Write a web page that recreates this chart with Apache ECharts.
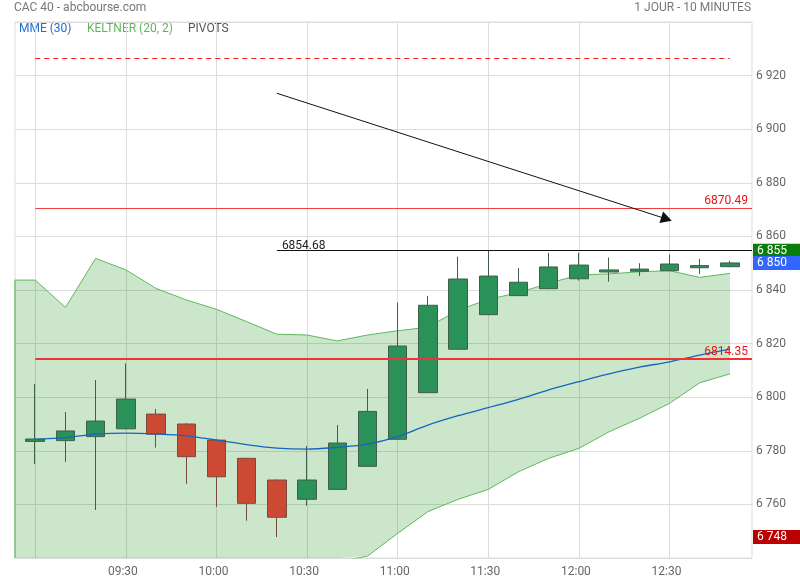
<!DOCTYPE html>
<html><head><meta charset="utf-8">
<script src="https://cdn.jsdelivr.net/npm/echarts@6/dist/echarts.min.js"></script>
<style>html,body{margin:0;padding:0;background:#fff}#c{width:800px;height:580px}</style>
</head><body><div id="c"></div>
<script>
// ---- data ----
const categories = ['09:00','09:10','09:20','09:30','09:40','09:50','10:00','10:10','10:20','10:30','10:40','10:50',
  '11:00','11:10','11:20','11:30','11:40','11:50','12:00','12:10','12:20','12:30','12:40','12:50'];
const opens  = [6783.5,6783.8,6785.3,6788.2,6793.7,6790.0,6784.0,6777.2,6769.1,6761.9,6765.6,6774.2,
  6784.3,6801.7,6817.9,6830.8,6837.9,6840.5,6844.2,6846.7,6847.0,6847.2,6848.3,6848.7];
const closes = [6784.4,6787.4,6791.1,6799.3,6786.2,6777.8,6770.3,6760.4,6755.2,6769.1,6782.9,6794.7,
  6819.1,6834.3,6844.1,6845.2,6842.9,6848.6,6849.3,6847.5,6847.8,6849.7,6849.1,6850.1];
const lows   = [6775.1,6775.9,6757.9,6788.0,6781.2,6767.7,6759.1,6753.9,6747.8,6759.5,6765.4,6774.0,
  6784.0,6801.5,6817.7,6830.6,6837.7,6840.3,6843.5,6843.1,6845.2,6847.0,6846.0,6848.5];
const highs  = [6804.9,6794.5,6806.4,6812.6,6795.6,6790.3,6784.2,6777.4,6769.3,6781.8,6789.6,6803.1,
  6835.3,6837.8,6852.4,6854.68,6848.2,6853.9,6853.9,6852.1,6850.0,6853.2,6851.6,6850.9];
const mme30  = [6784.3,6784.9,6786.2,6786.6,6786.3,6785.6,6784.0,6782.3,6781.0,6780.6,6781.3,6782.5,
  6785.3,6789.6,6793.1,6796.1,6799.2,6802.7,6805.8,6808.7,6811.2,6813.2,6815.7,6817.9];
const keltnerUpper = [6843.7,6833.5,6851.8,6847.5,6840.6,6836.3,6832.8,6828.2,6823.5,6823.2,6821.0,6823.2,
  6824.8,6826.1,6832.5,6836.5,6839.0,6842.5,6845.6,6846.0,6846.8,6847.2,6844.7,6846.2];
const keltnerLower = [6724.9,6736.3,6720.6,6725.7,6732.0,6735.0,6735.2,6736.4,6738.5,6738.0,6738.6,6740.7,
  6749.2,6757.3,6761.9,6765.6,6772.2,6777.2,6780.9,6787.1,6792.1,6797.7,6805.4,6808.7];
const xTickIndex = [3,6,9,12,15,18,21];
const pivotDashed = 6926.5;
const pivotR1 = 6870.49;
const pivotP = 6814.35;
const dayHigh = 6854.68;
const lastPrice = 6850.1;
const dayLow = 6747.8;
const highLineStart = 8;
const arrowFrom = [8, 6913.4];
const arrowTo = [20.9, 6866.5];

// ---- chart ----
const X_MIN = -0.67, X_MAX = 23.73, Y_MIN = 6740, Y_MAX = 6940;
const FONT = 'Roboto';
const fmt = v => String(Math.round(v)).replace(/\B(?=(\d{3})+(?!\d))/g, ' ');
const idx = categories.map((_, i) => i);
const bandX = [X_MIN].concat(idx);
const bandUp = [keltnerUpper[0]].concat(keltnerUpper);
const bandLo = [keltnerLower[0]].concat(keltnerLower);
const LAST = idx.length - 1;

const chart = echarts.init(document.getElementById('c'), null, {renderer: 'canvas'});
const boxLabel = (v, bg) => ({
  yAxis: v, lineStyle: {color: 'transparent', width: 0, opacity: 1},
  label: {show: true, position: 'end', distance: 1, formatter: fmt(v), color: '#fff', opacity: 1,
    backgroundColor: bg, padding: [1, 14, 0, 4], fontSize: 12, lineHeight: 13, fontFamily: FONT}
});
const option = {
  animation: false,
  textStyle: {fontFamily: FONT},
  grid: {left: 15, right: 48, top: 22, bottom: 22, show: true, borderColor: '#ddd', borderWidth: 1},
  xAxis: {
    type: 'value', min: X_MIN, max: X_MAX,
    axisLine: {show: false},
    axisTick: {show: false, customValues: xTickIndex},
    axisLabel: {customValues: xTickIndex, formatter: v => categories[v], color: '#666', fontSize: 12, margin: 8, padding: [0, 6, 0, 0]},
    splitLine: {show: true, lineStyle: {color: '#ddd', width: 1}}
  },
  yAxis: {
    type: 'value', position: 'right', min: Y_MIN, max: Y_MAX, interval: 20,
    axisLine: {show: true, lineStyle: {color: '#ddd'}},
    axisTick: {show: false},
    axisLabel: {color: '#666', fontSize: 12, margin: 4, showMinLabel: false, showMaxLabel: false, formatter: fmt},
    splitLine: {show: true, lineStyle: {color: '#ddd', width: 1}}
  },
  graphic: [
    {type: 'text', left: 14, top: 2, style: {text: 'CAC 40 - abcbourse.com', fill: '#777', font: '12px Roboto'}},
    {type: 'text', right: 49, top: 2, style: {text: '1 JOUR - 10 MINUTES', fill: '#777', font: '12px Roboto'}},
    {type: 'text', left: 19, top: 23, style: {text: 'MME (30)', fill: '#1f6fd1', font: '12px Roboto'}},
    {type: 'text', left: 87, top: 23, style: {text: 'KELTNER (20, 2)', fill: '#5cb85c', font: '12px Roboto'}},
    {type: 'text', left: 188, top: 23, style: {text: 'PIVOTS', fill: '#555', font: '12px Roboto'}}
  ],
  series: [
    {
      name: 'band', type: 'custom', z: 1, silent: true,
      data: [[bandX[0], bandUp[0]]],
      renderItem: (params, api) => {
        const pts = [];
        for (let i = 0; i < bandX.length; i++) pts.push(api.coord([bandX[i], bandUp[i]]));
        for (let i = bandX.length - 1; i >= 0; i--) pts.push(api.coord([bandX[i], bandLo[i]]));
        const cs = params.coordSys;
        return {type: 'polygon', shape: {points: echarts.graphic.clipPointsByRect(pts, {x: cs.x, y: cs.y, width: cs.width, height: cs.height})},
          style: {fill: 'rgba(0,128,0,0.2)'}};
      }
    },
    {name: 'kup', type: 'line', z: 2, symbol: 'none', data: bandX.map((x, i) => [x, bandUp[i]]), lineStyle: {color: '#5cb85c', width: 1}},
    {name: 'klo', type: 'line', z: 2, symbol: 'none', data: bandX.map((x, i) => [x, bandLo[i]]), lineStyle: {color: '#5cb85c', width: 1}},
    {name: 'kedge', type: 'line', z: 2, symbol: 'none', clip: false, data: [[X_MIN, bandUp[0]], [X_MIN, Y_MIN]], lineStyle: {color: '#7cc07c', width: 1.5}},
    {
      name: 'cac', type: 'candlestick', z: 3, barWidth: 19,
      encode: {x: 0, y: [1, 2, 3, 4]},
      data: idx.map(i => [i, opens[i], closes[i], lows[i], highs[i]]),
      itemStyle: {color: '#2a9158', color0: '#cc4a34', borderColor: '#3f5f4a', borderColor0: '#7a4a3c', borderWidth: 1}
    },
    {
      name: 'MME (30)', type: 'line', z: 4, symbol: 'none', smooth: 0.35,
      data: idx.map(i => [i, mme30[i]]),
      lineStyle: {color: '#1565c0', width: 1.3},
      markLine: {
        silent: true, symbol: ['none', 'none'], animation: false,
        data: [
          [{coord: [0, pivotDashed], lineStyle: {color: '#ee2222', width: 1, type: [5, 4]}, label: {show: false}},
           {coord: [LAST, pivotDashed]}],
          [{coord: [0, pivotR1], lineStyle: {color: '#f04040', width: 1, type: 'solid'},
            label: {show: true, position: 'insideEndTop', distance: [4, 1], formatter: String(pivotR1), color: '#ee1111', fontSize: 12, fontFamily: FONT}},
           {coord: [X_MAX, pivotR1]}],
          [{coord: [0, pivotP], lineStyle: {color: '#ee3333', width: 2, type: 'solid'},
            label: {show: true, position: 'insideEndTop', distance: [4, 1], formatter: String(pivotP), color: '#ee1111', fontSize: 12, fontFamily: FONT}},
           {coord: [X_MAX, pivotP]}],
          [{coord: [highLineStart, dayHigh], lineStyle: {color: '#111', width: 1, type: 'solid'},
            label: {show: true, position: 'insideStartTop', distance: [5, -1], formatter: String(dayHigh), color: '#222', fontSize: 12, fontFamily: FONT}},
           {coord: [X_MAX, dayHigh]}],
          [{coord: arrowFrom, symbol: 'none', lineStyle: {color: '#111', width: 1, type: 'solid'}, label: {show: false}},
           {coord: arrowTo, symbol: 'triangle', symbolSize: [12, 11]}],
          boxLabel(dayHigh, '#0a7d0a'),
          boxLabel(lastPrice, '#3366ff'),
          boxLabel(dayLow, '#bb0000')
        ]
      }
    }
  ]
};
chart.setOption(option);
</script></body></html>
